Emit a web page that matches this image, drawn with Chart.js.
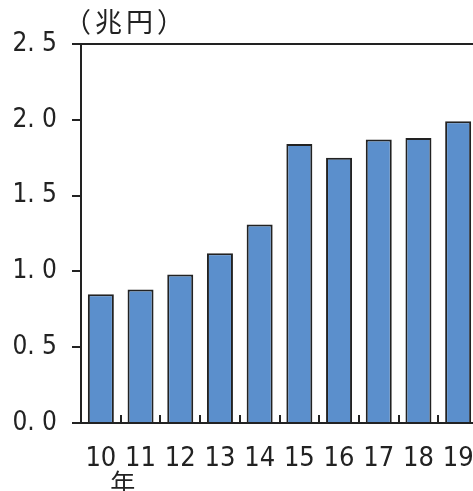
<!DOCTYPE html>
<html>
<head>
<meta charset="utf-8">
<script src="https://cdn.jsdelivr.net/npm/chart.js@4"></script>
<style>
html,body{margin:0;padding:0;background:#fff;overflow:hidden;}
canvas{display:block;}
</style>
</head>
<body>
<canvas id="c" width="480" height="491"></canvas>
<script>
const categories = ['10','11','12','13','14','15','16','17','18','19'];
const values = [0.85, 0.88, 0.98, 1.12, 1.31, 1.84, 1.75, 1.87, 1.88, 1.99];
const yTickValues = [0, 0.5, 1.0, 1.5, 2.0, 2.5];
const yTickLabels = ['0. 0','0. 5','1. 0','1. 5','2. 0','2. 5'];
const unitLabel = '（兆円）';
const xUnitLabel = '年';

const AXIS = '#222222';
const NUM_FONT = '"Liberation Sans Narrow","DejaVu Sans Condensed","Liberation Sans",sans-serif';
const CJK_FONT = '"Noto Sans CJK JP","Noto Sans",sans-serif';

const extras = {
  id: 'extras',
  afterDraw(chart) {
    const ctx = chart.ctx;
    const x = chart.scales.x;
    const bottom = chart.chartArea.bottom;
    ctx.save();
    ctx.strokeStyle = AXIS;
    ctx.lineWidth = 2;
    for (let i = 0; i < categories.length; i++) {
      const a = x.getPixelForTick(i);
      const b = i + 1 < categories.length ? x.getPixelForTick(i + 1) : a + (a - x.getPixelForTick(i - 1));
      const mx = Math.round((a + b) / 2);
      ctx.beginPath();
      ctx.moveTo(mx, bottom);
      ctx.lineTo(mx, bottom - 8);
      ctx.stroke();
    }
    ctx.fillStyle = '#222';
    ctx.textAlign = 'left';
    ctx.textBaseline = 'middle';
    ctx.font = '27px ' + CJK_FONT;
    if ('letterSpacing' in ctx) ctx.letterSpacing = '4px';
    const w = ctx.measureText(unitLabel).width;
    ctx.fillText(unitLabel, chart.chartArea.left + 43 - (w - 4) / 2, 22);
    if ('letterSpacing' in ctx) ctx.letterSpacing = '0px';
    ctx.textAlign = 'center';
    ctx.font = '25px ' + CJK_FONT;
    const xm = (x.getPixelForTick(0) + x.getPixelForTick(1)) / 2 + 2;
    ctx.fillText(xUnitLabel, xm, 482);
    ctx.restore();
  }
};

new Chart(document.getElementById('c'), {
  type: 'bar',
  data: {
    labels: categories,
    datasets: [{
      data: values,
      backgroundColor: '#5B8FCC',
      borderColor: AXIS,
      borderWidth: 2,
      borderSkipped: 'bottom',
      barPercentage: 0.655,
      categoryPercentage: 1.0
    }]
  },
  options: {
    responsive: false,
    animation: false,
    layout: { padding: { top: 44, right: 2, bottom: 0, left: 0 } },
    plugins: { legend: { display: false }, tooltip: { enabled: false } },
    scales: {
      x: {
        offset: true,
        grid: { display: false, drawTicks: false },
        border: { display: true, color: AXIS, width: 2 },
        ticks: {
          color: '#222',
          font: { family: NUM_FONT, size: 27, lineHeight: 2.65 },
          padding: 0,
          maxRotation: 0,
          autoSkip: false
        },
        afterFit(scale) { scale.height = 68; }
      },
      y: {
        min: 0,
        max: 2.5,
        afterBuildTicks(scale) { scale.ticks = yTickValues.map(v => ({ value: v })); },
        grid: {
          drawOnChartArea: true,
          drawTicks: true,
          tickLength: 9,
          lineWidth: 2,
          tickColor: AXIS,
          color: c => (c.tick && c.tick.value === 2.5) ? AXIS : 'rgba(0,0,0,0)'
        },
        border: { display: true, color: AXIS, width: 2 },
        ticks: {
          color: '#222',
          font: { family: NUM_FONT, size: 26 },
          padding: 15,
          callback: (v) => {
            const i = yTickValues.indexOf(v);
            return i >= 0 ? yTickLabels[i] : '';
          }
        },
        afterFit(scale) { scale.width = 81; }
      }
    }
  },
  plugins: [extras]
});
</script>
</body>
</html>
